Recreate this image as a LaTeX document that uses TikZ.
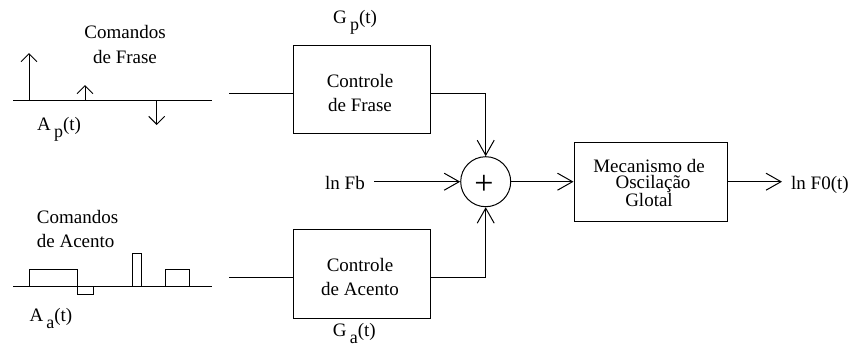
\documentclass[tikz,border=0pt]{standalone}
\usepackage{fontspec}
\setmainfont{Liberation Serif}
\usetikzlibrary{arrows.meta}
\tikzset{
  ln/.style={line width=1pt, draw=black},
  bigtip/.style={-{Straight Barb[length=15pt,width=17pt,line width=1pt]}},
  smalltip/.style={-{Straight Barb[length=8pt,width=16pt,line width=1pt]}},
  blk/.style={ln, rectangle, inner sep=0pt},
  txt/.style={font=\fontsize{19}{23}\selectfont, inner sep=0pt},
}
\newcommand{\subp}[1]{\,\raisebox{-0.38em}{\fontsize{18}{18}\selectfont #1}}
\begin{document}
\begin{tikzpicture}[x=1pt,y=-1pt]
\useasboundingbox (0,0) rectangle (850,354);
% blocks
\node[blk, minimum width=137pt, minimum height=88pt] (topbox) at (361.5,89) {};
\node[blk, minimum width=137pt, minimum height=89pt] (botbox) at (361.5,273.5) {};
\node[blk, circle, minimum size=50pt] (sum) at (485.7,181.7) {};
\node[blk, minimum width=153pt, minimum height=79pt] (mech) at (650.5,181.5) {};
% block texts
\node[txt, align=center, font=\fontsize{19}{24}\selectfont] (toptxt) at (360,93) {Controle\\de Frase};
\node[txt, align=center, font=\fontsize{19}{24}\selectfont] (bottxt) at (360,277) {Controle\\de Acento};
\node[inner sep=0pt, anchor=base, font=\fontsize{34}{34}\selectfont] (plus) at (484,194.5) {+};
\node[txt, align=center, font=\fontsize{19}{16}\selectfont] (mechtxt) at (649,183) {Mecanismo de\\\hspace*{8pt}Oscilação\\Glotal};
% labels
\node[txt, anchor=base west] (gp) at (333,23.3) {G\subp{p}(t)};
\node[txt, anchor=base west] (ga) at (332.7,336.7) {G\subp{a}(t)};
\node[txt, anchor=base, inner xsep=9pt] (lnfb) at (345,189) {ln Fb};
\node[txt, anchor=base west, inner xsep=9pt] (lnf0) at (782,189) {ln F0(t)};
% connectors
\coordinate (inP) at (229,93.3);
\coordinate (inA) at (229,277);
\draw[ln] (inP) -- (topbox.west |- inP);
\draw[ln] (inA) -- (botbox.west |- inA);
\draw[ln, bigtip] (topbox.east |- inP) -| (sum.north);
\draw[ln, bigtip] (botbox.east |- inA) -| (sum.south);
\draw[ln, bigtip] (lnfb.east |- sum) -- (sum.west);
\draw[ln, bigtip] (sum.east) -- (mech.west |- sum);
\draw[ln, bigtip] (mech.east |- sum) -- (lnf0.west |- sum);
% phrase commands
\node[txt, align=center, font=\fontsize{19}{25}\selectfont] (cmdP) at (125,44.5) {Comandos\\de Frase};
\node[txt, anchor=base west] (ap) at (37,130.7) {A\subp{p}(t)};
\draw[ln] (13,100.7) -- (212,100.7);
\draw[ln, smalltip] (29,100.7) -- (29,53);
\draw[ln, smalltip] (85,100.7) -- (85,85);
\draw[ln, smalltip] (156.7,100.7) -- (156.7,125);
% accent commands
\node[txt, align=left, anchor=west, font=\fontsize{19}{24}\selectfont] (cmdA) at (36.7,228.7) {Comandos\\de Acento};
\node[txt, anchor=base west] (aa) at (29.3,321) {A\subp{a}(t)};
\draw[ln] (13,286) -- (212,286);
\draw[ln] (29,286) -- (29,269.7) -- (77,269.7) -- (77,294) -- (93,294) -- (93,286);
\draw[ln] (132.7,286) -- (132.7,253.3) -- (141,253.3) -- (141,286);
\draw[ln] (165,286) -- (165,269.7) -- (189.3,269.7) -- (189.3,286);
\end{tikzpicture}
\end{document}
